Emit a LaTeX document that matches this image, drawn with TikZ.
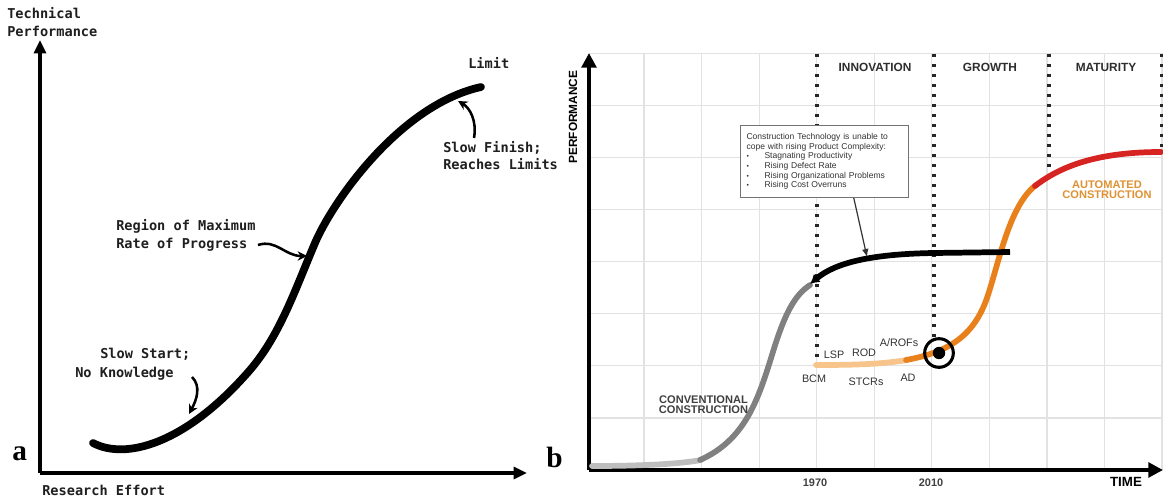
\documentclass[tikz,border=0pt]{standalone}
\usepackage{fontspec}
\setmainfont{Liberation Sans}
\newfontfamily\monofont{DejaVu Sans Mono}
\newfontfamily\panelfont{Liberation Serif}
\usetikzlibrary{arrows.meta,calc}

\definecolor{gridgray}{RGB}{226,226,226}
\definecolor{convlight}{RGB}{190,190,190}
\definecolor{convdark}{RGB}{128,128,128}
\definecolor{autopale}{RGB}{247,196,140}
\definecolor{autoorange}{RGB}{232,128,28}
\definecolor{autored}{RGB}{214,36,34}
\definecolor{autotext}{RGB}{222,146,52}

\begin{document}
\begin{tikzpicture}[x=0.75pt,y=-0.75pt,
  lbl/.style={inner sep=0pt},
  mono/.style={lbl, font=\monofont\bfseries\fontsize{10.2}{12}\selectfont, text=black!88, anchor=base west},
  panel/.style={lbl, font=\panelfont\bfseries\fontsize{22}{24}\selectfont, anchor=base west},
  phase/.style={lbl, font=\bfseries\fontsize{8.9}{10}\selectfont, text=black!82},
  tag/.style={lbl, font=\fontsize{8.1}{9}\selectfont, text=black!80},
  bigtag/.style={lbl, font=\bfseries\fontsize{8.3}{9}\selectfont, align=center},
  yeartag/.style={lbl, font=\bfseries\fontsize{8.2}{9}\selectfont, text=black!75},
  gridline/.style={draw=gridgray, line width=0.9pt},
  era/.style={draw=black!85, line width=2.4pt, dash pattern=on 2.4pt off 5.1pt},
  axisA/.style={draw=black, line width=2.3pt, -{Triangle[length=10pt,width=9pt]}},
  axisB/.style={draw=black, line width=3pt, -{Triangle[length=11pt,width=11pt]}},
  annot/.style={draw=black, line width=1.9pt, -{Stealth[length=7pt,width=7pt]}},
  scurve/.style={line width=5.8pt, line cap=round},
  trend/.style={line width=4.3pt, line cap=round},
  cbox/.style={draw=black!55, line width=0.8pt, fill=white, inner xsep=4.5pt, inner ysep=6pt,
    text width=117pt, align=left, font=\fontsize{6.4}{7.2}\selectfont, text=black!80},
]
\useasboundingbox (0,0) rectangle (1163,499);
\fill[white] (0,0) rectangle (1163,499);

% ---------------- panel a : classic S-curve ----------------
\coordinate (aorigin) at (40,473);
\coordinate (atop) at (40,40);
\coordinate (aright) at (527,473);
\draw[axisA] (aorigin) -- (atop);
\draw[axisA] (aorigin) -- (aright);

\node[mono] (techA) at (7,18.5) {Technical};
\node[mono] (techB) at (7,36.5) {Performance};
\node[mono] (effort) at (42,495) {Research Effort};
\node[mono] (limit) at (468,69) {Limit};
\node[mono] (finishA) at (443,153) {Slow Finish;};
\node[mono] (finishB) at (443,170) {Reaches Limits};
\node[mono] (regionA) at (116,230) {Region of Maximum};
\node[mono] (regionB) at (116,248) {Rate of Progress};
\node[mono] (startA) at (100,358) {Slow Start;};
\node[mono] (startB) at (75,377) {No Knowledge};
\node[panel] (pa) at (12,460) {a};

\draw[scurve] (93,443) .. controls (125,460) and (185,445) .. (250,370)
  .. controls (280,335) and (295,290) .. (315,243)
  .. controls (333,201) and (400,105) .. (481,87);

\coordinate (finishTail) at (474,138);
\coordinate (finishTip) at (458,101);
\draw[annot] (finishTail) .. controls (477,121) and (470,108) .. (finishTip);
\coordinate (regionTail) at (258,245);
\coordinate (regionTip) at (307,256);
\draw[annot] (regionTail) .. controls (276,239) and (285,256) .. (regionTip);
\coordinate (startTail) at (192,377);
\coordinate (startTip) at (189,414);
\draw[annot] (startTail) .. controls (201,386) and (197,399) .. (startTip);

% ---------------- panel b : construction technology S-curves ----------------
\foreach \k in {1,...,10}
  \draw[gridline] ({586.5+57.55*\k},53) -- ({586.5+57.55*\k},470);
\foreach \j in {1,...,8}
  \draw[gridline] (589,{470-52.1*\j}) -- (1162,{470-52.1*\j});

% era boundaries
\draw[era] (817,54) -- (817,362);
\draw[era] (934,54) -- (934,342);
\draw[era] (1049,54) -- (1049,168);
\draw[era] (1161.5,54) -- (1161.5,150);

\coordinate (borigin) at (589,470);
\coordinate (btop) at (589,53);
\coordinate (bright) at (1163,470);
\draw[axisB] (borigin) -- (btop);
\draw[axisB] (borigin) -- (bright);

% conventional construction
\draw[trend, draw=convlight] (592,466) .. controls (640,466) and (680,464) .. (701,460);
\draw[trend, draw=convdark] (700,460) .. controls (745,440) and (758,400) .. (772,355)
  .. controls (785,312) and (795,295) .. (810,285);

% automated construction
\draw[trend, draw=autopale] (816,365) .. controls (850,365) and (880,364.5) .. (907,360);
\draw[trend, draw=autoorange] (906,360) .. controls (950,352) and (975,335) .. (988,295)
  .. controls (1000,258) and (1010,205) .. (1036,185);
\draw[trend, draw=autored] (1035,186) .. controls (1062,165) and (1100,152) .. (1161,152);

% plateau of conventional construction
\draw[line width=4.3pt, draw=black, {Latex[length=7pt,width=8pt]}-]
  (810,284) .. controls (835,263) and (870,254) .. (934,253) -- (1010,252);

% current position
\node[circle, draw=black, line width=2.3pt, minimum size=21.5pt, inner sep=0pt] (now) at (939,353) {};
\fill[black] (now.center) circle (6.2);

% explanation box
\node[cbox, anchor=north west] (cbox) at (740,125) {%
  Construction Technology is unable to\\
  cope with rising Product Complexity:\\
  \makebox[13.5pt][l]{\tiny\textbullet}Stagnating Productivity\\
  \makebox[13.5pt][l]{\tiny\textbullet}Rising Defect Rate\\
  \makebox[13.5pt][l]{\tiny\textbullet}Rising Organizational Problems\\
  \makebox[13.5pt][l]{\tiny\textbullet}Rising Cost Overruns};
\coordinate (plateauTip) at (867,257);
\draw[draw=black!80, line width=0.9pt, -{Latex[length=6pt,width=5pt]}]
  ($(cbox.south west)!0.673!(cbox.south east)$) -- (plateauTip);

% labels
\node[phase] (innov) at (875,67) {INNOVATION};
\node[phase] (growth) at (990,67) {GROWTH};
\node[phase] (mature) at (1106,67) {MATURITY};
\node[lbl, font=\bfseries\fontsize{8.9}{10}\selectfont, rotate=90] (perf) at (573,117) {PERFORMANCE};
\node[lbl, font=\bfseries\fontsize{10}{11}\selectfont] (time) at (1126,482) {TIME};
\node[yeartag] (y1970) at (815,483) {1970};
\node[yeartag] (y2010) at (931,483) {2010};
\node[bigtag, text=black!75] (conv) at (703.5,404.5) {CONVENTIONAL\\[-1.2pt]CONSTRUCTION};
\node[bigtag, text=autotext] (auto) at (1107,189.5) {AUTOMATED\\[-1.2pt]CONSTRUCTION};
\node[tag] (lsp) at (834,355) {LSP};
\node[tag] (rod) at (864,353) {ROD};
\node[tag] (arofs) at (899,343) {A/ROFs};
\node[tag] (bcm) at (814,379) {BCM};
\node[tag] (stcrs) at (866,382) {STCRs};
\node[tag] (ad) at (908,378) {AD};
\node[panel] (pb) at (546,467) {b};
\end{tikzpicture}
\end{document}
